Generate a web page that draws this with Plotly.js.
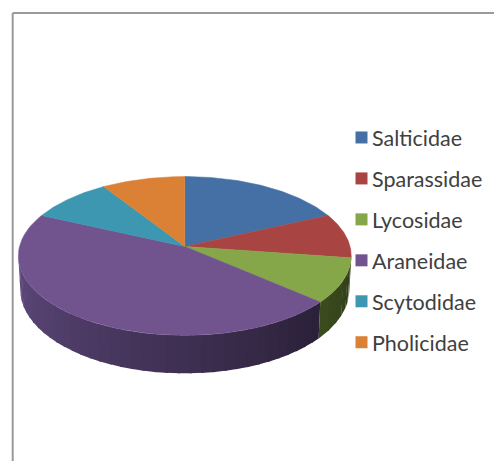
<!DOCTYPE html>
<html><head><meta charset="utf-8">
<script src="https://cdn.plot.ly/plotly-3.0.1.min.js"></script>
<style>html,body{margin:0;padding:0;background:#fff}#chart{width:494px;height:461px}</style>
</head><body><div id="chart"></div>
<script>
const families = ["Salticidae","Sparassidae","Lycosidae","Araneidae","Scytodidae","Pholicidae"];
const counts = [2,1,1,5,1,1];
const topColors = ["#4470a6","#a84442","#86a64a","#71538e","#3d97b0","#db8136"];
const wallStops = {2:["#3b4c1e","#2e3a16"],3:["#604a7e","#2a2038"]};

// Perspective view of the disc, in page-pixel axis units
const cx=184.8, cy=246.5, rx=165.3, ry=78.3, p=0.119, depth=33.5;
function proj(deg,drop){
  const a=deg*Math.PI/180, X=Math.sin(a), Z=Math.cos(a), w=1+p*Z;
  const s=drop?0.988:1;
  return [cx+s*rx*X/w, cy-ry*Z/w+(drop?depth/w:0)];
}
const total=counts.reduce((a,b)=>a+b,0);
let run=0;
const spans=counts.map(v=>{const s=[run/total*360,(run+v)/total*360];run+=v;return s;});
function hexMix(a,b,t){
  const c=h=>[1,3,5].map(i=>parseInt(h.substr(i,2),16));
  const A=c(a),B=c(b);
  return "rgb("+A.map((v,i)=>Math.round(v+(B[i]-v)*t)).join(",")+")";
}
const traces=[];
// visible side wall: drawn left to right so each band overlaps the previous seam
const wallFrom=263, wallTo=97;
[3,2].forEach(i=>{
  const a0=Math.max(spans[i][0],wallTo), a1=Math.min(spans[i][1],wallFrom);
  const n=i===3?36:6;
  for(let k=0;k<n;k++){
    const s=a1-(a1-a0)*k/n, e=a1-(a1-a0)*(k+1)/n-(k<n-1?0.8:0), m=8, xs=[], ys=[];
    for(let j=0;j<=m;j++){const q=proj(s+(e-s)*j/m,false);xs.push(q[0]);ys.push(q[1]);}
    for(let j=m;j>=0;j--){const q=proj(s+(e-s)*j/m,true);xs.push(q[0]);ys.push(q[1]);}
    const col=hexMix(wallStops[i][0],wallStops[i][1],(k+.5)/n);
    traces.push({type:"scatter",mode:"lines",x:xs,y:ys,fill:"toself",fillcolor:col,
      line:{width:0},showlegend:false,hoverinfo:"skip"});
  }
});
// top face slices
families.forEach((f,i)=>{
  const xs=[cx],ys=[cy],m=60;
  for(let j=0;j<=m;j++){const q=proj(spans[i][0]+(spans[i][1]-spans[i][0])*j/m,false);xs.push(q[0]);ys.push(q[1]);}
  xs.push(cx);ys.push(cy);
  traces.push({type:"scatter",mode:"lines",x:xs,y:ys,fill:"toself",fillcolor:topColors[i],
    line:{color:topColors[i],width:0.5},showlegend:false,name:f,hoverinfo:"name"});
});
// legend entries
families.forEach((f,i)=>{
  traces.push({type:"scatter",mode:"markers",x:[null],y:[null],name:f,legendgroup:f,
    marker:{symbol:"square",size:12,color:topColors[i]},hoverinfo:"skip"});
});
const layout={
  width:494,height:461,margin:{l:0,r:0,t:0,b:0,pad:0},
  paper_bgcolor:"#fff",plot_bgcolor:"#fff",
  xaxis:{range:[0,494],visible:false,fixedrange:true},
  yaxis:{range:[461,0],visible:false,fixedrange:true},
  font:{family:"Lato, sans-serif",size:21.5,color:"#404040"},
  legend:{x:332/494,y:1-117/461,xanchor:"left",yanchor:"top",tracegroupgap:10,itemwidth:30,
    bgcolor:"rgba(0,0,0,0)",font:{family:"Lato, sans-serif",size:21.5,color:"#404040"}},
  shapes:[
    {type:"line",xref:"paper",yref:"paper",x0:12.7/494,x1:1,y0:1-13/461,y1:1-13/461,line:{color:"#9a9a9a",width:2}},
    {type:"line",xref:"paper",yref:"paper",x0:12.7/494,x1:12.7/494,y0:0,y1:1-13/461,line:{color:"#9a9a9a",width:2}}
  ]
};
Plotly.newPlot("chart",traces,layout,{displayModeBar:false,responsive:false}).then(gd=>{
  gd.querySelectorAll(".legend .legendsymbols").forEach(g=>g.setAttribute("transform","translate(9.5,0)"));
});
</script></body></html>
